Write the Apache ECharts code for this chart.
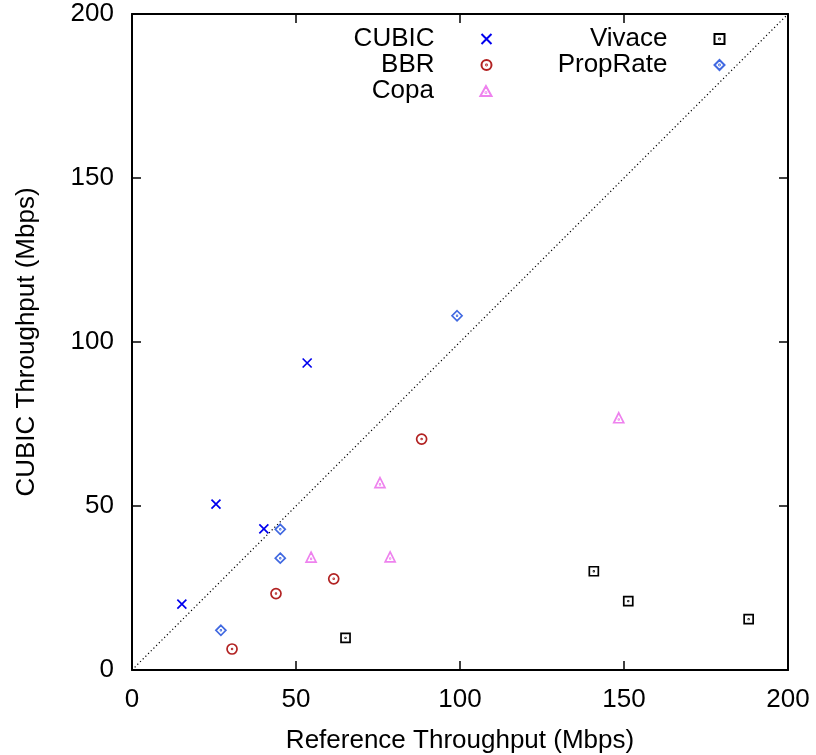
<!DOCTYPE html>
<html>
<head>
<meta charset="utf-8">
<script src="https://cdn.jsdelivr.net/npm/echarts@6/dist/echarts.min.js"></script>
<style>html,body{margin:0;padding:0;background:#fff}#c{width:816px;height:755px}</style>
</head>
<body>
<div id="c"></div>
<script>
const xTicks = [0, 50, 100, 150, 200];
const yTicks = [0, 50, 100, 150, 200];
const cubic = [[15.2, 20.1], [25.6, 50.6], [40.2, 43.0], [53.4, 93.6]];
const bbr = [[30.5, 6.4], [43.9, 23.3], [61.5, 27.8], [88.3, 70.4]];
const copa = [[54.6, 34.4], [75.6, 57.1], [78.7, 34.5], [148.4, 76.9]];
const vivace = [[65.1, 9.8], [140.8, 30.1], [151.3, 21.0], [188.0, 15.5]];
const proprate = [[27.1, 12.1], [45.2, 34.1], [45.2, 42.9], [99.1, 108.0]];
const diagonal = [[0, 0], [200, 200]];

const FONT = 'Liberation Sans, Arial, Helvetica, sans-serif';
const FS = 26;
const dot = ' M4.6 5A0.4 0.4 0 1 1 5.4 5A0.4 0.4 0 1 1 4.6 5Z';
const SYM = {
  cross: 'path://M0 0L10 10M10 0L0 10',
  circle: 'path://M0 5A5 5 0 1 1 10 5A5 5 0 1 1 0 5Z' + dot,
  triangle: 'path://M5 0L10 9L0 9Z M4.6 6A0.4 0.4 0 1 1 5.4 6A0.4 0.4 0 1 1 4.6 6Z',
  square: 'path://M0 0L10 0L10 10L0 10Z' + dot,
  diamond: 'path://M5 0L10 5L5 10L0 5Z' + dot
};

function sc(name, data, sym, color, size) {
  return {
    name: name, type: 'scatter', data: data, symbol: sym, symbolSize: size,
    itemStyle: { color: 'none', borderColor: color, borderWidth: 1.7, opacity: 1 },
    emphasis: { disabled: true }, z: 5
  };
}

function leg(name, right, top) {
  return {
    data: [name], right: right, top: top, align: 'right', orient: 'vertical',
    padding: 0, itemWidth: 94, itemHeight: 10, selectedMode: false,
    textStyle: { fontFamily: FONT, fontSize: FS, color: '#000' }
  };
}

const axisCommon = {
  type: 'value', min: 0, max: 200, interval: 50,
  axisLine: { show: true, onZero: false, lineStyle: { color: '#000', width: 2 } },
  axisTick: { show: true, inside: true, length: 9, lineStyle: { color: '#000', width: 1.5 } },
  splitLine: { show: false }
};

const chart = echarts.init(document.getElementById('c'));
chart.setOption({
  animation: false,
  backgroundColor: '#fff',
  grid: { left: 132, right: 28, top: 14, bottom: 85, containLabel: false, outerBoundsMode: 'none' },
  legend: [
    leg('CUBIC', 322, 26), leg('BBR', 322, 52), leg('Copa', 322, 78),
    leg('Vivace', 89, 26), leg('PropRate', 89, 52)
  ],
  xAxis: [
    Object.assign({}, axisCommon, {
      position: 'bottom',
      name: 'Reference Throughput (Mbps)', nameLocation: 'middle', nameGap: 58,
      nameTextStyle: { fontFamily: FONT, fontSize: FS, color: '#000' },
      axisLabel: { fontFamily: FONT, fontSize: FS, color: '#000', margin: 17,
        formatter: v => xTicks.indexOf(v) >= 0 ? String(v) : '' }
    }),
    Object.assign({}, axisCommon, { position: 'top', axisLabel: { show: false } })
  ],
  yAxis: [
    Object.assign({}, axisCommon, {
      position: 'left',
      name: 'CUBIC Throughput (Mbps)', nameLocation: 'middle', nameGap: 92,
      nameTextStyle: { fontFamily: FONT, fontSize: FS, color: '#000' },
      axisLabel: { fontFamily: FONT, fontSize: FS, color: '#000', margin: 18,
        formatter: v => yTicks.indexOf(v) >= 0 ? String(v) : '' }
    }),
    Object.assign({}, axisCommon, { position: 'right', axisLabel: { show: false } })
  ],
  series: [
    { name: 'diag', type: 'line', data: diagonal, symbol: 'none', silent: true,
      lineStyle: { color: '#000', width: 1.2, type: [1.2, 2.6] }, z: 2 },
    sc('CUBIC', cubic, SYM.cross, '#0000ee', 9),
    sc('BBR', bbr, SYM.circle, '#b22222', 10),
    sc('Copa', copa, SYM.triangle, '#ee82ee', 10),
    sc('Vivace', vivace, SYM.square, '#000000', 9),
    sc('PropRate', proprate, SYM.diamond, '#4169e1', 10)
  ]
});
</script>
</body>
</html>
